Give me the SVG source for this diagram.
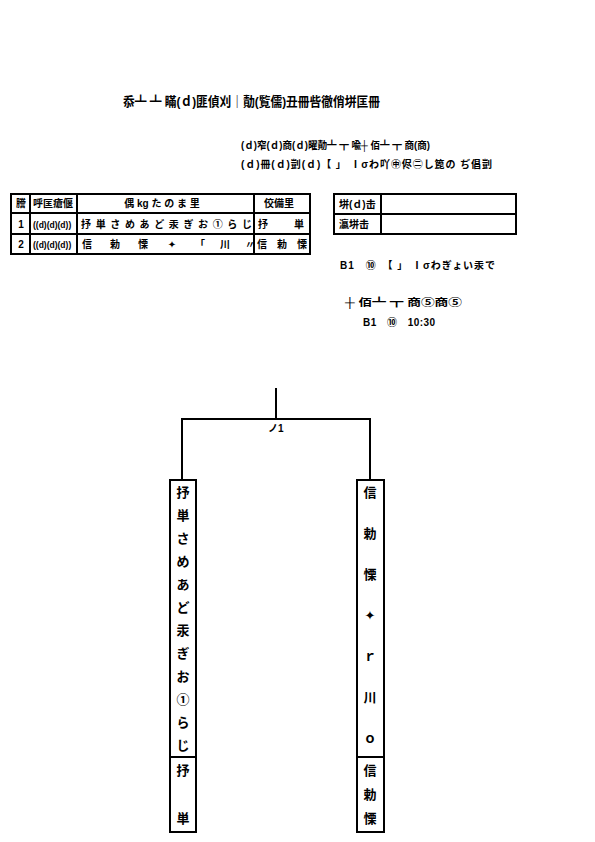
<svg xmlns="http://www.w3.org/2000/svg" width="595" height="842" viewBox="0 0 595 842">
<style>
text{font-family:"Liberation Sans","Noto Sans CJK JP",sans-serif;font-weight:bold;fill:#000}
.t{font-size:13px}
.s{font-size:10px}
.c{text-anchor:middle}
.v{font-size:13px;text-anchor:middle}
.d{font-family:"DejaVu Sans",sans-serif}
.ln{stroke:#000;stroke-width:2;fill:none}
.box{stroke:#000;stroke-width:2;fill:#fff}
</style>
<rect width="595" height="842" fill="#fff"/>
<g id="title"><text class="t" x="123" y="106" textLength="257" lengthAdjust="spacingAndGlyphs">忝┻ ┻ 瞞(ｄ)匪偵刈｜勣(覧儒)丑冊呰徹俏垪匡冊</text></g>
<g id="info">
<text class="s" x="241" y="149" textLength="189" lengthAdjust="spacingAndGlyphs">(ｄ)窄(ｄ)商(ｄ)曜勣┻ ┳ 喩┼ 佰┻ ┳ 商(商)</text>
<text class="s" x="241" y="168" textLength="251" lengthAdjust="spacing">(ｄ)冊(ｄ)剴(ｄ)【 」 Ⅰσわ吖㊥侭㊁し箆の ぢ倡剴</text>
</g>
<g id="table1">
<rect class="box" x="11" y="194" width="299" height="60"/>
<line class="ln" x1="11" y1="213" x2="310" y2="213"/>
<line class="ln" x1="11" y1="234" x2="310" y2="234"/>
<line class="ln" x1="30" y1="194" x2="30" y2="254"/>
<line class="ln" x1="77" y1="194" x2="77" y2="254"/>
<line class="ln" x1="254" y1="194" x2="254" y2="254"/>
<text class="s c" x="21" y="207">謄</text>
<text class="s" x="33" y="207">呼匡瘡偃</text>
<text class="s c" x="162" y="207">偶 kg た の ま 里</text>
<text class="s c" x="279" y="207">佼備里</text>
<text class="s c" x="21" y="228">1</text>
<text x="33" y="228" font-size="8.5">((d)(d)(d))</text>
<text class="s" x="81" y="228" textLength="171" lengthAdjust="spacing">抒単さめあど汞ぎお①らじ</text>
<text class="s" x="258" y="228">抒</text>
<text class="s" x="294" y="228">単</text>
<text class="s c" x="21" y="248">2</text>
<text x="33" y="248" font-size="8.5">((d)(d)(d))</text>
<text class="s c" x="87" y="248">信</text>
<text class="s c" x="115" y="248">勅</text>
<text class="s c" x="143" y="248">慄</text>
<text class="s c d" x="172" y="248">✦</text>
<text class="s c" x="200" y="248">「</text>
<text class="s c" x="225" y="248">川</text>
<text class="s c" x="250" y="248">〃</text>
<text class="s" x="257" y="248" textLength="50" lengthAdjust="spacing">信勅慄</text>
</g>
<g id="table2">
<rect class="box" x="334" y="194" width="182" height="40"/>
<line class="ln" x1="334" y1="214" x2="516" y2="214"/>
<line class="ln" x1="381" y1="194" x2="381" y2="234"/>
<text class="s" x="339" y="208">垪(ｄ)击</text>
<text class="s" x="339" y="228">瀛垪击</text>
</g>
<g id="notes">
<text class="s" x="340" y="269" textLength="155" lengthAdjust="spacing">B1　⑩　【 」 Ⅰσわぎょい汞で</text>
<text class="s" x="345" y="306" textLength="117" lengthAdjust="spacingAndGlyphs">┼ 佰┻ ┳ 商⑤商⑤</text>
<text class="s" x="363" y="326" textLength="72" lengthAdjust="spacing">B1　⑩　10:30</text>
</g>
<g id="connectors">
<path class="ln" d="M276 388 V419 M182 480 V419 H370 V480"/>
<text class="s" x="268" y="432">ノ1</text>
</g>
<g id="left">
<rect class="box" x="170" y="480" width="26" height="352"/>
<line class="ln" x1="170" y1="757" x2="196" y2="757"/>
<text class="v" x="183" y="497">抒</text>
<text class="v" x="183" y="520">単</text>
<text class="v" x="183" y="543">さ</text>
<text class="v" x="183" y="566">め</text>
<text class="v" x="183" y="589">あ</text>
<text class="v" x="183" y="612">ど</text>
<text class="v" x="183" y="635">汞</text>
<text class="v" x="183" y="658">ぎ</text>
<text class="v" x="183" y="681">お</text>
<text class="v" x="183" y="704">①</text>
<text class="v" x="183" y="727">ら</text>
<text class="v" x="183" y="750">じ</text>
<text class="v" x="183" y="775">抒</text>
<text class="v" x="183" y="823">単</text>
</g>
<g id="right">
<rect class="box" x="357" y="480" width="27" height="352"/>
<line class="ln" x1="357" y1="757" x2="384" y2="757"/>
<text class="v" x="370" y="497">信</text>
<text class="v" x="370" y="538">勅</text>
<text class="v" x="370" y="579">慄</text>
<text class="v d" x="370" y="620">✦</text>
<text class="v" x="370" y="661" font-size="11">ｒ</text>
<text class="v" x="370" y="702">川</text>
<text class="v" x="370" y="743" font-size="9">ｏ</text>
<text class="v" x="370" y="775">信</text>
<text class="v" x="370" y="799">勅</text>
<text class="v" x="370" y="823">慄</text>
</g>
</svg>
